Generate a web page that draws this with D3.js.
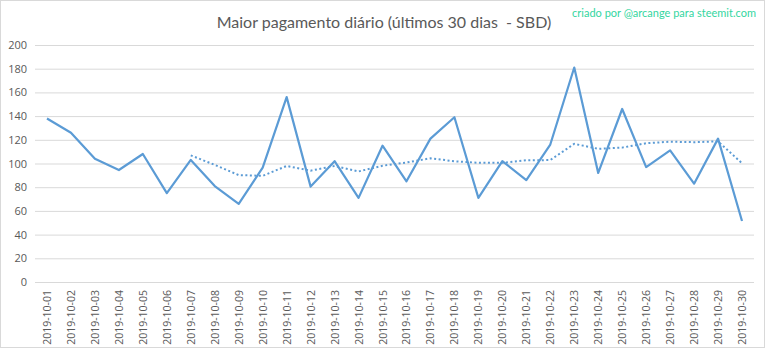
<!DOCTYPE html>
<html>
<head>
<meta charset="utf-8">
<script src="https://cdn.jsdelivr.net/npm/d3@7"></script>
<style>
  html, body { margin: 0; padding: 0; background: #fff; }
  svg { display: block; }
</style>
</head>
<body>
<svg id="chart" width="768" height="349"></svg>
<script>
// Daily dates (October 2019)
const dates = [
  "2019-10-01","2019-10-02","2019-10-03","2019-10-04","2019-10-05","2019-10-06",
  "2019-10-07","2019-10-08","2019-10-09","2019-10-10","2019-10-11","2019-10-12",
  "2019-10-13","2019-10-14","2019-10-15","2019-10-16","2019-10-17","2019-10-18",
  "2019-10-19","2019-10-20","2019-10-21","2019-10-22","2019-10-23","2019-10-24",
  "2019-10-25","2019-10-26","2019-10-27","2019-10-28","2019-10-29","2019-10-30"
];

// Highest daily payout (SBD)
const payout = [
  138, 126, 104, 94.5, 108, 75, 103, 81, 66, 96.5, 156, 80.5, 102, 71, 115,
  85, 121, 139, 71, 102, 86, 116, 181, 92, 146, 97, 111, 83, 121, 51.5
];

// 7-day moving average trend (starts on the 7th day)
const trend = [
  null, null, null, null, null, null, 106.9, 98.8, 90.2, 89.6, 97.9, 94.0,
  97.9, 93.3, 98.1, 100.9, 104.4, 101.9, 100.6, 100.6, 102.7, 102.9, 116.6,
  112.4, 113.4, 117.1, 118.4, 118.0, 118.7, 100.2
];

const yTicks = [0, 20, 40, 60, 80, 100, 120, 140, 160, 180, 200];

const titleText = "Maior pagamento diário (últimos 30 dias  - SBD)";
const creditText = "criado por @arcange para steemit.com";

const svg = d3.select("#chart");
const plot = { left: 35, right: 754, top: 45, bottom: 282 };

// outer chart frame
svg.append("rect")
  .attr("x", 0.5).attr("y", 0.5)
  .attr("width", 764).attr("height", 347)
  .attr("fill", "#fff").attr("stroke", "#d9d9d9").attr("stroke-width", 1);

const x = d3.scaleBand().domain(dates).range([plot.left, plot.right]);
const y = d3.scaleLinear().domain([0, 200]).range([plot.bottom, plot.top]);
const cx = d => x(d) + x.bandwidth() / 2;

// horizontal gridlines + y labels
const yAxis = d3.axisLeft(y).tickValues(yTicks)
  .tickSize(-(plot.right - plot.left)).tickPadding(8);
const gy = svg.append("g")
  .attr("transform", `translate(${plot.left},0)`)
  .call(yAxis);
gy.select(".domain").remove();
gy.selectAll(".tick line").attr("stroke", "#d9d9d9").attr("stroke-width", 1);
gy.selectAll(".tick text")
  .attr("fill", "#595959")
  .style("font-family", "'Open Sans', sans-serif")
  .style("font-size", "11px");

// x axis labels, rotated
const xAxis = d3.axisBottom(x).tickSize(0).tickPadding(0);
const gx = svg.append("g")
  .attr("transform", `translate(0,${plot.bottom})`)
  .call(xAxis);
gx.select(".domain").remove();
gx.selectAll(".tick text")
  .attr("fill", "#595959")
  .style("font-family", "'Open Sans', sans-serif")
  .style("font-size", "10.5px")
  .attr("text-anchor", "end")
  .attr("dy", null)
  .attr("transform", "translate(4,8) rotate(-90)");

// trend line (dotted)
const trendLine = d3.line()
  .defined(d => d[1] != null)
  .x(d => cx(d[0])).y(d => y(d[1]));
svg.append("path")
  .datum(dates.map((d, i) => [d, trend[i]]))
  .attr("d", trendLine)
  .attr("fill", "none")
  .attr("stroke", "#5b9bd5")
  .attr("stroke-width", 2)
  .attr("stroke-dasharray", "2,2.5");

// main series
const mainLine = d3.line().x(d => cx(d[0])).y(d => y(d[1]));
svg.append("path")
  .datum(dates.map((d, i) => [d, payout[i]]))
  .attr("d", mainLine)
  .attr("fill", "none")
  .attr("stroke", "#5b9bd5")
  .attr("stroke-width", 2.2)
  .attr("stroke-linejoin", "round");

// title
svg.append("text")
  .attr("x", 384).attr("y", 28)
  .attr("text-anchor", "middle")
  .attr("fill", "#595959")
  .style("font-family", "Lato, sans-serif")
  .style("font-size", "16px")
  .style("white-space", "pre")
  .text(titleText);

// credit
svg.append("text")
  .attr("x", 756).attr("y", 17)
  .attr("text-anchor", "end")
  .attr("fill", "#33d6a0")
  .style("font-family", "Lato, sans-serif")
  .style("font-size", "11px")
  .text(creditText);
</script>
</body>
</html>
